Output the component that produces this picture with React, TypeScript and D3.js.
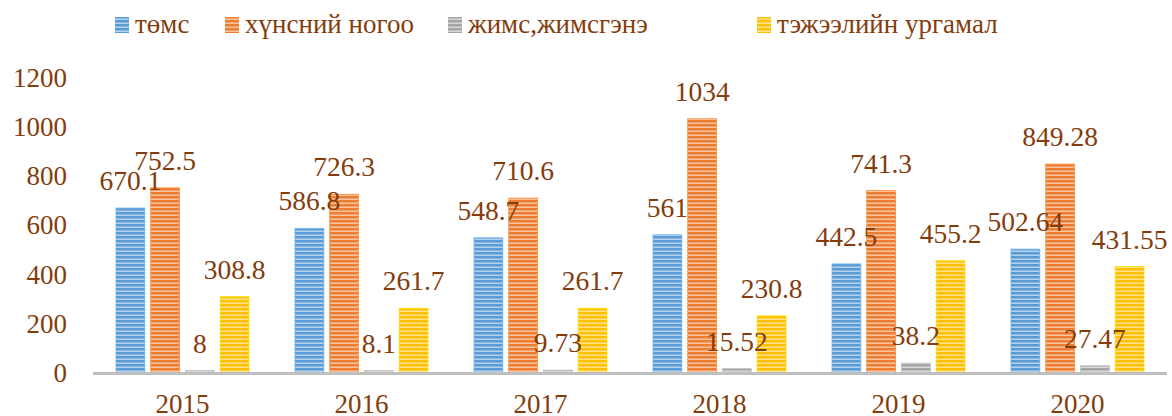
import React from "react";
import * as d3 from "d3";

const years = ["2015", "2016", "2017", "2018", "2019", "2020"];
const seriesNames = ["төмс", "хүнсний ногоо", "жимс,жимсгэнэ", "тэжээлийн ургамал"];
const potato = [670.1, 586.8, 548.7, 561, 442.5, 502.64];
const vegetables = [752.5, 726.3, 710.6, 1034, 741.3, 849.28];
const fruits = [8, 8.1, 9.73, 15.52, 38.2, 27.47];
const fodder = [308.8, 261.7, 261.7, 230.8, 455.2, 431.55];
const yTicks = [0, 200, 400, 600, 800, 1000, 1200];

const colors = ["#5b9bd5", "#ed7d31", "#a5a5a5", "#ffc000"];
const textColor = "#843c0c";
const font = "Liberation Serif";

const width = 1172;
const height = 416;
const plot = { left: 93, right: 1167, top: 78, bottom: 372.5 };
const series = [potato, vegetables, fruits, fodder];

const x0 = d3.scaleBand().domain(years).range([plot.left, plot.right]);
const x1 = d3
  .scaleBand()
  .domain(d3.range(4).map(String))
  .range([23, x0.bandwidth() - 23])
  .paddingInner(0.17);
const y = d3.scaleLinear().domain([0, 1200]).range([plot.bottom, plot.top]);

const legendX = [115, 225, 448, 757];

export default function App() {
  return (
    <div style={{ position: "absolute", left: 0, top: 0, width, height, background: "#fff" }}>
      <svg width={width} height={height} style={{ display: "block" }} fontFamily={font} fill={textColor}>
        <defs>
          {colors.map((c, i) => (
            <pattern key={i} id={"stripe" + i} patternUnits="userSpaceOnUse" width={8} height={4}>
              <rect width={8} height={4} fill={c} />
              <rect y={2.5} width={8} height={1.5} fill="#fff" opacity={0.55} />
            </pattern>
          ))}
        </defs>

        {/* y tick labels */}
        {yTicks.map((t) => (
          <text key={t} x={67} y={y(t)} dy="0.34em" textAnchor="end" fontSize={27}>
            {t}
          </text>
        ))}

        {/* bars */}
        {years.map((yr, i) => (
          <g key={yr} transform={`translate(${x0(yr)},0)`}>
            {series.map((s, k) => (
              <rect
                key={k}
                x={x1(String(k))}
                width={x1.bandwidth()}
                y={y(s[i])}
                height={y(0) - y(s[i])}
                fill={`url(#stripe${k})`}
                stroke={d3.color(colors[k])!.brighter(0.4).formatHex()}
                strokeWidth={0.8}
              />
            ))}
          </g>
        ))}

        {/* axis line */}
        <line x1={plot.left} x2={plot.right} y1={y(0) + 1} y2={y(0) + 1} stroke="#bfbfbf" strokeWidth={3} />

        {/* data labels */}
        {years.map((yr, i) => (
          <g key={yr} transform={`translate(${x0(yr)},0)`}>
            {series.map((s, k) => (
              <text
                key={k}
                x={x1(String(k))! + x1.bandwidth() / 2}
                y={y(s[i]) - 18}
                textAnchor="middle"
                fontSize={27.5}
              >
                {s[i]}
              </text>
            ))}
          </g>
        ))}

        {/* year labels */}
        {years.map((yr) => (
          <text key={yr} x={x0(yr)! + x0.bandwidth() / 2} y={413} textAnchor="middle" fontSize={27}>
            {yr}
          </text>
        ))}

        {/* legend */}
        {seriesNames.map((name, i) => (
          <g key={name} transform={`translate(${legendX[i]},0)`}>
            <rect y={17} width={14} height={16} fill={`url(#stripe${i})`} />
            <text x={20} y={33} fontSize={27}>
              {name}
            </text>
          </g>
        ))}
      </svg>
    </div>
  );
}
